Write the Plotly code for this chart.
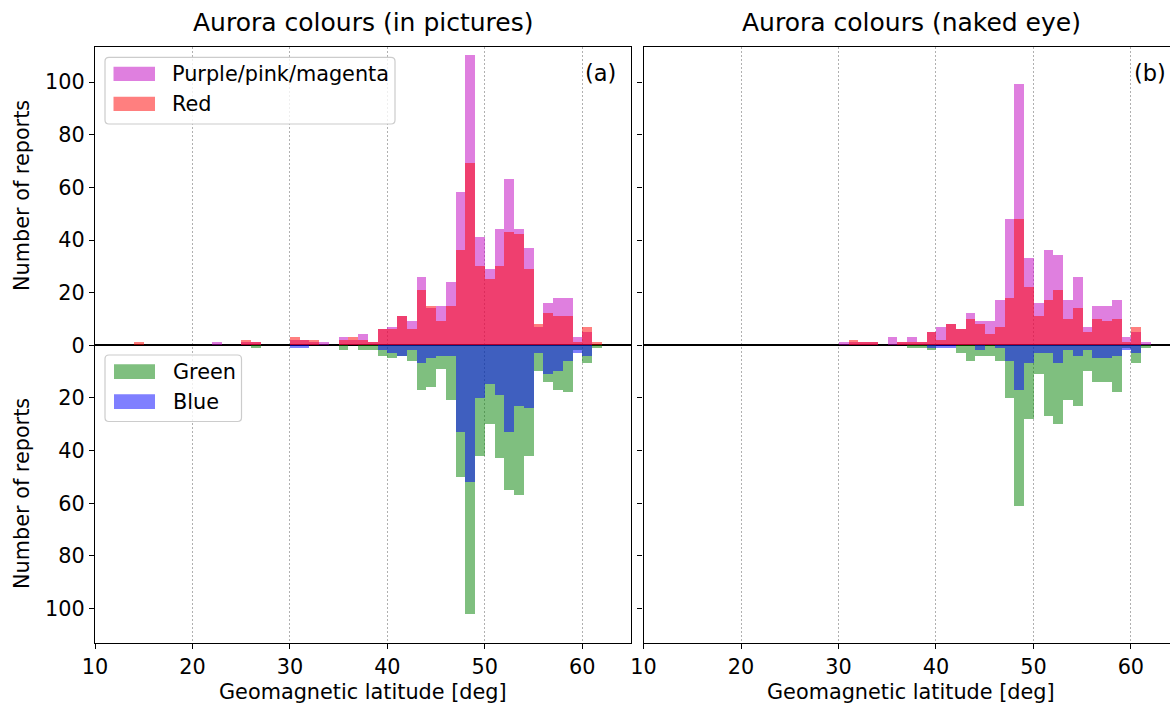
import numpy as np
import plotly.graph_objects as go

W, H = 1170, 704

# ---------------- data (1-degree geomagnetic latitude bins, left edges) ----------------
lat_left = list(range(14, 62))  # 14 ... 61

# Panel (a): Aurora colours in pictures
pic_purple = [0,0,0,0,0,0,0,0,1,0,0,1,1,0,0,0,
              2,2,1,1,0,3,2,4,1,6,7,11,9,26,14,15,24,58,110,41,29,44,63,44,37,7,16,18,18,3,5,0]
pic_red    = [1,0,0,0,0,0,0,0,0,0,0,2,1,0,0,0,
              3,2,2,0,0,2,3,2,1,6,6,11,6,21,15,9,15,36,69,30,25,30,43,42,29,8,12,11,11,1,7,1]
pic_green  = [0,0,0,0,0,0,0,0,0,0,0,0,1,0,0,0,
              0,0,0,0,0,2,0,2,2,4,5,4,6,17,16,9,21,50,102,42,30,43,55,57,42,10,14,17,18,2,7,1]
pic_blue   = [0,0,0,0,0,0,0,0,0,0,0,0,0,0,0,0,
              1,1,0,0,0,0,0,0,0,2,3,4,2,7,5,4,4,33,52,20,15,19,33,23,24,3,11,10,6,3,4,0]

# Panel (b): Aurora colours with the naked eye
eye_purple = [0,0,0,0,0,0,0,0,0,0,0,0,0,0,0,0,
              1,1,1,1,0,3,1,3,1,5,7,8,6,12,9,9,17,48,99,33,16,36,34,17,26,7,15,15,17,3,5,1]
eye_red    = [0,0,0,0,0,0,0,0,0,0,0,0,0,0,0,0,
              0,2,1,1,0,0,1,1,1,5,2,8,6,10,8,4,7,18,48,22,11,17,21,10,14,5,10,9,10,1,7,0]
eye_green  = [0,0,0,0,0,0,0,0,0,0,0,0,0,0,0,0,
              0,0,0,0,0,0,0,1,1,2,0,0,3,6,4,4,6,20,61,28,11,27,30,21,23,10,14,14,18,1,7,1]
eye_blue   = [0,0,0,0,0,0,0,0,0,0,0,0,0,0,0,0,
              0,0,0,0,0,0,0,0,0,1,1,1,0,0,2,0,1,6,17,7,3,3,7,2,4,2,5,5,4,2,3,0]

titles = ["Aurora colours (in pictures)", "Aurora colours (naked eye)"]
panel_tags = ["(a)", "(b)"]
legend_up = ["Purple/pink/magenta", "Red"]
legend_down = ["Green", "Blue"]
x_ticks = [10, 20, 30, 40, 50, 60]
y_ticks = [-100, -80, -60, -40, -20, 0, 20, 40, 60, 80, 100]
y_ticklabels = [str(abs(v)) for v in y_ticks]

# ---------------- styling ----------------
C_PURPLE = "rgba(191,0,191,0.5)"
C_RED = "rgba(255,0,0,0.5)"
C_GREEN = "rgba(0,128,0,0.5)"
C_BLUE = "rgba(0,0,255,0.5)"
FONT = "DejaVu Sans"
FS = 20.8
FS_TITLE = 25
FS_TAG = 22.5


def px(x):
    return x / W


def py(y):
    return 1 - y / H


centers = np.array(lat_left) + 0.5

fig = go.Figure()

panels = [
    (pic_purple, pic_red, pic_green, pic_blue, "x", "y"),
    (eye_purple, eye_red, eye_green, eye_blue, "x2", "y2"),
]
for pu, rd, gr, bl, xa, ya in panels:
    for vals, col, sign in [(pu, C_PURPLE, 1), (rd, C_RED, 1), (gr, C_GREEN, -1), (bl, C_BLUE, -1)]:
        fig.add_trace(go.Bar(
            x=centers, y=sign * np.array(vals), width=1.0,
            marker=dict(color=col, line=dict(width=0)),
            xaxis=xa, yaxis=ya, showlegend=False, hoverinfo="skip",
        ))

# axes geometry (pixels)
ax_top, ax_bot = 47.3, 643.3
a_left, a_right = 95.0, 631.0
b_left = 643.6
deg_px = (a_right - a_left) / 55.0
b_xmax = 10 + (W - b_left) / deg_px
YMAX = 113.2

common_x = dict(
    tickvals=x_ticks, ticks="outside", ticklen=5, tickwidth=1.2, tickcolor="black",
    showline=True, linecolor="black", linewidth=1.3, mirror=True,
    showgrid=True, gridcolor="#b0b0b0", gridwidth=1, griddash="1.5px,2.5px",
    zeroline=False, automargin=False,
    tickfont=dict(family=FONT, size=FS, color="black"),
)
common_y = dict(
    range=[-YMAX, YMAX], tickvals=y_ticks, ticktext=y_ticklabels,
    ticks="outside", ticklen=5, tickwidth=1.2, tickcolor="black",
    showline=True, linecolor="black", linewidth=1.3,
    showgrid=False, zeroline=True, zerolinecolor="black", zerolinewidth=1.7,
    domain=[py(ax_bot), py(ax_top)], automargin=False,
    tickfont=dict(family=FONT, size=FS, color="black"),
)

fig.update_layout(
    width=W, height=H, margin=dict(l=0, r=0, t=0, b=0, pad=0, autoexpand=False),
    paper_bgcolor="white", plot_bgcolor="white",
    barmode="overlay", bargap=0, showlegend=False,
    font=dict(family=FONT, size=FS, color="black"),
    xaxis=dict(domain=[px(a_left), px(a_right)], range=[10, 65], anchor="y", **common_x),
    yaxis=dict(anchor="x", mirror=True, **common_y),
    xaxis2=dict(domain=[px(b_left), 1.0], range=[10, b_xmax], anchor="y2", **common_x),
    yaxis2=dict(anchor="x2", mirror=False, showticklabels=False, **common_y),
)

annotations = []
# titles and x labels
for t, cx in zip(titles, [(a_left + a_right) / 2, (b_left + b_left + 535.5) / 2]):
    annotations.append(dict(text=t, x=px(cx), y=py(22), xref="paper", yref="paper",
                            xanchor="center", yanchor="middle", showarrow=False,
                            font=dict(family=FONT, size=FS_TITLE, color="black")))
    annotations.append(dict(text="Geomagnetic latitude [deg]", x=px(cx), y=py(692),
                            xref="paper", yref="paper", xanchor="center", yanchor="middle",
                            showarrow=False, font=dict(family=FONT, size=FS, color="black")))
# panel tags
for tag, rx in zip(panel_tags, [618, 1168]):
    annotations.append(dict(text=tag, x=px(rx), y=py(73), xref="paper", yref="paper",
                            xanchor="right", yanchor="middle", showarrow=False,
                            font=dict(family=FONT, size=FS_TAG, color="black")))
# y labels
for cy in [196, 494]:
    annotations.append(dict(text="Number of reports", x=px(22), y=py(cy), xref="paper",
                            yref="paper", xanchor="center", yanchor="middle", textangle=-90,
                            showarrow=False, font=dict(family=FONT, size=FS, color="black")))

shapes = []


def rounded_box(x0, y0, x1, y1, r=4):
    rx, ry = r / W, r / H
    X0, X1 = px(x0), px(x1)
    Y0, Y1 = py(y0), py(y1)  # Y0 top (larger), Y1 bottom
    path = (f"M {X0+rx},{Y0} L {X1-rx},{Y0} Q {X1},{Y0} {X1},{Y0-ry} "
            f"L {X1},{Y1+ry} Q {X1},{Y1} {X1-rx},{Y1} L {X0+rx},{Y1} "
            f"Q {X0},{Y1} {X0},{Y1+ry} L {X0},{Y0-ry} Q {X0},{Y0} {X0+rx},{Y0} Z")
    return dict(type="path", path=path, xref="paper", yref="paper", layer="above",
                fillcolor="rgba(255,255,255,0.8)", line=dict(color="#cccccc", width=1.2))


def legend(box, entries, patch_x, text_x, rows):
    shapes.append(rounded_box(*box))
    for (label, col), (yt, yb) in zip(entries, rows):
        shapes.append(dict(type="rect", xref="paper", yref="paper", layer="above",
                           x0=px(patch_x[0]), x1=px(patch_x[1]), y0=py(yb), y1=py(yt),
                           fillcolor=col, line=dict(width=0)))
        annotations.append(dict(text=label, x=px(text_x), y=py((yt + yb) / 2),
                                xref="paper", yref="paper", xanchor="left", yanchor="middle",
                                showarrow=False, font=dict(family=FONT, size=FS, color="black")))


legend((105, 57.3, 395, 124), list(zip(legend_up, [C_PURPLE, C_RED])),
       (113.5, 155), 170, [(66.7, 81), (96.7, 111)])
legend((105, 355, 241.5, 421.5), list(zip(legend_down, [C_GREEN, C_BLUE])),
       (114, 155), 170.5, [(364.3, 379), (394.3, 409)])

fig.update_layout(annotations=annotations, shapes=shapes)
fig.write_html("out.html")
